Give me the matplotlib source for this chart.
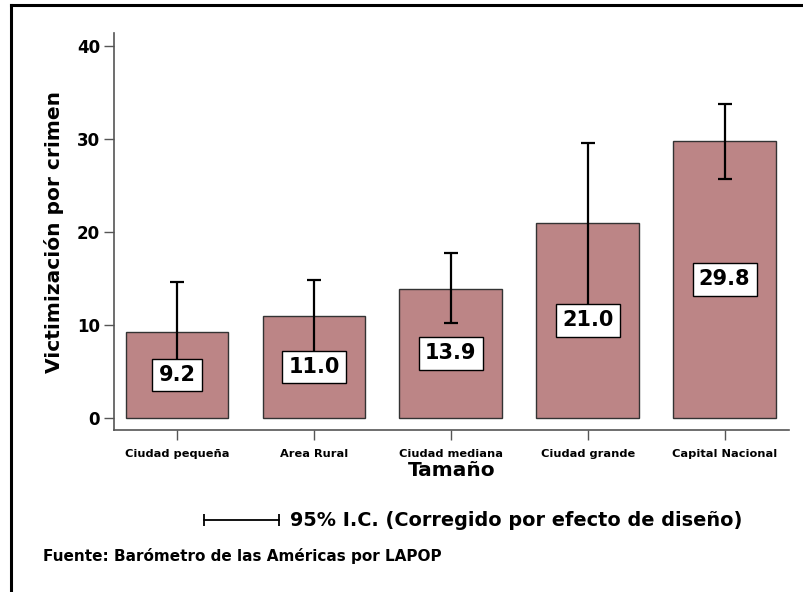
import matplotlib.pyplot as plt
from matplotlib.lines import Line2D

# --- data ---
categorias = ["Ciudad pequeña", "Area Rural", "Ciudad mediana", "Ciudad grande", "Capital Nacional"]
valores = [9.2, 11.0, 13.9, 21.0, 29.8]
ic_inferior = [3.8, 7.0, 10.2, 12.0, 25.7]
ic_superior = [14.6, 14.8, 17.7, 29.6, 33.8]
y_ticks = [0, 10, 20, 30, 40]

plt.rcParams['font.family'] = ['DejaVu Sans']
plt.rcParams['font.weight'] = 'bold'

fig = plt.figure(figsize=(8.04, 5.92), dpi=100)
ax = fig.add_axes([0.1418, 0.2736, 0.8395, 0.6707])

x = list(range(len(categorias)))
ax.bar(x, valores, width=0.75, color="#bc8586", edgecolor="#333333", linewidth=1.0, zorder=2)

err_low = [v - lo for v, lo in zip(valores, ic_inferior)]
err_high = [hi - v for v, hi in zip(valores, ic_superior)]
ax.errorbar(x, valores, yerr=[err_low, err_high], fmt="none", ecolor="black",
            elinewidth=1.6, capsize=5, capthick=1.6, zorder=3)

# value labels at half bar height
for xi, v in zip(x, valores):
    ax.text(xi, v / 2, f"{v:.1f}", ha="center", va="center", fontsize=15, fontweight="bold",
            zorder=4, bbox=dict(boxstyle="square,pad=0.3", fc="white", ec="black", lw=1.0))

ax.set_xlim(-0.46, 4.47)
ax.set_ylim(-1.29, 41.4)
ax.set_yticks(y_ticks)
ax.set_yticklabels([str(t) for t in y_ticks], fontsize=12, fontweight="bold")
ax.set_xticks(x)
ax.set_xticklabels(categorias, fontsize=8.2, fontweight="bold")
ax.tick_params(axis="both", length=7, width=1, color="#555555", pad=3)
ax.tick_params(axis="x", pad=7)

for s in ["top", "right"]:
    ax.spines[s].set_visible(False)
for s in ["left", "bottom"]:
    ax.spines[s].set_color("#555555")
    ax.spines[s].set_linewidth(1.2)

ax.set_ylabel("Victimización por crimen", fontsize=14.5, fontweight="bold", labelpad=9)
ax.set_xlabel("Tamaño", fontsize=14.5, fontweight="bold", labelpad=1)

# outer frame
fig.add_artist(Line2D([11 / 804, 11 / 804], [0, 1 - 5 / 592], color="black", lw=2.2))
fig.add_artist(Line2D([11 / 804, 1], [1 - 5 / 592, 1 - 5 / 592], color="black", lw=2.2))

# legend for the error bars
ly = 1 - 520 / 592
fig.add_artist(Line2D([204 / 804, 279 / 804], [ly, ly], color="black", lw=1.3))
fig.add_artist(Line2D([204 / 804, 279 / 804], [ly, ly], color="black", lw=0,
                      marker="|", markersize=8, markeredgewidth=1.3))
fig.text(290 / 804, ly, "95% I.C. (Corregido por efecto de diseño)", fontsize=13.9,
         fontweight="bold", va="center", ha="left")

fig.text(43 / 804, 1 - 556 / 592, "Fuente: Barómetro de las Américas por LAPOP",
         fontsize=11, fontweight="bold", va="center", ha="left")

fig.savefig("out.png", dpi=100)
